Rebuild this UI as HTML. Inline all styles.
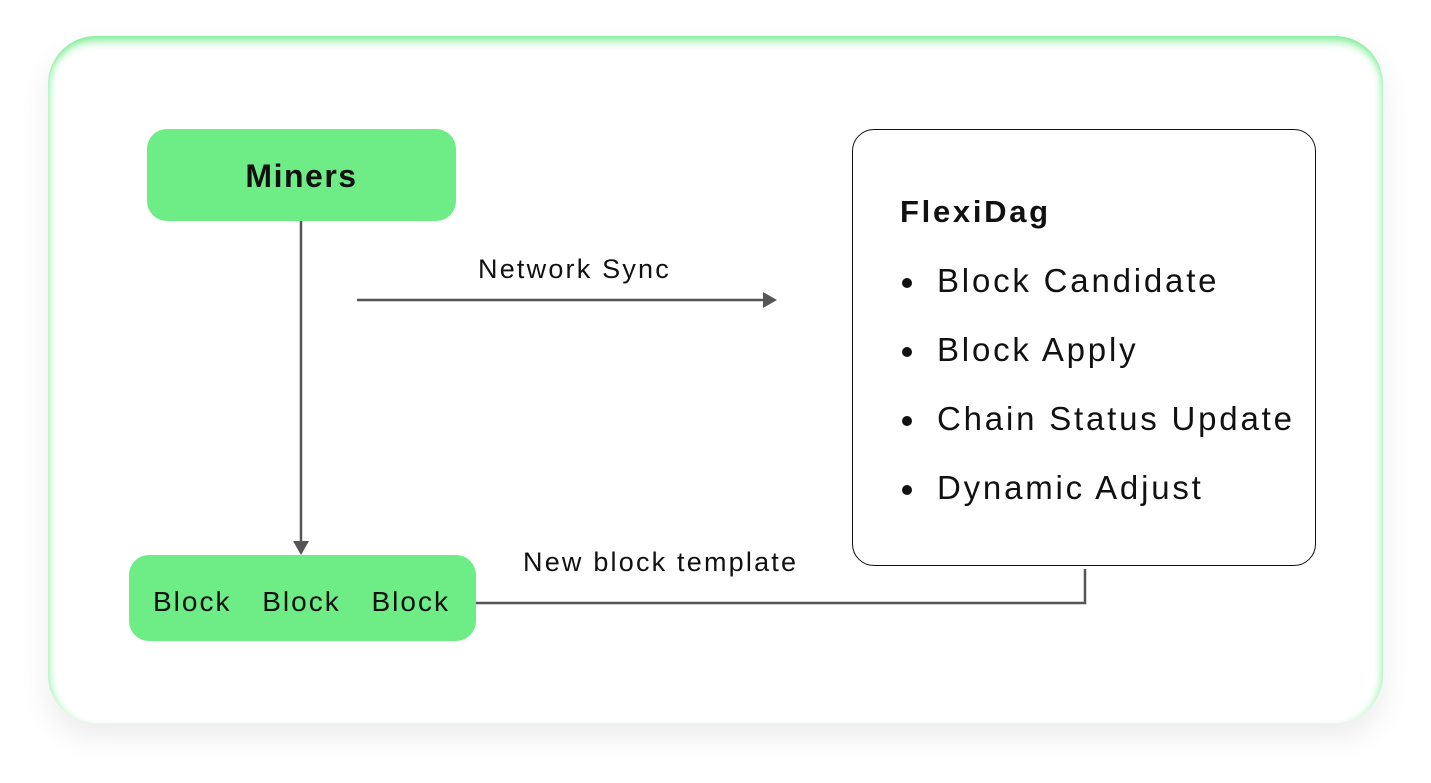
<!DOCTYPE html>
<html><head><style>
body{margin:0;width:1431px;height:783px;background:#fff;position:relative;overflow:hidden;font-family:"Liberation Sans",sans-serif;color:#111}
.card{position:absolute;left:48px;top:36px;width:1335px;height:687px;border-radius:48px;background:#fff;
box-shadow:inset 0 10px 10px -6px #6eea88,inset 8px 0 8px -6px #a8f3b8,inset -8px 0 8px -6px #a8f3b8,0 14px 30px rgba(0,0,0,0.08)}
.g{position:absolute;background:#6eec86;border-radius:20px}
.t{position:absolute;white-space:nowrap}
.li{position:absolute;left:937px;font-size:33px;letter-spacing:2.8px;white-space:nowrap}
.b{position:absolute;left:902px;width:12px;height:12px;border-radius:50%;background:#111}
</style></head><body>
<div class="card"></div>
<div class="g" style="left:147px;top:129px;width:309px;height:92px"></div>
<div class="t" style="left:147px;width:309px;top:158px;text-align:center;font-weight:bold;font-size:32px;letter-spacing:1.5px">Miners</div>
<div class="g" style="left:129px;top:555px;width:347px;height:86px"></div>
<div class="t" style="left:153px;top:586px;font-size:28px;letter-spacing:2px;word-spacing:21px">Block Block Block</div>
<div style="position:absolute;left:852px;top:129px;width:462px;height:435px;border:1.5px solid #111;border-radius:22px"></div>
<div class="t" style="left:900px;top:194px;font-weight:bold;font-size:31px;letter-spacing:2.7px">FlexiDag</div>
<div class="b" style="top:278px;width:10px;height:10px"></div><div class="li" style="top:262px">Block Candidate</div>
<div class="b" style="top:347px;width:10px;height:10px"></div><div class="li" style="top:331px">Block Apply</div>
<div class="b" style="top:416px;width:10px;height:10px"></div><div class="li" style="top:400px">Chain Status Update</div>
<div class="b" style="top:485px;width:10px;height:10px"></div><div class="li" style="top:469px">Dynamic Adjust</div>
<div class="t" style="left:478px;top:254px;font-size:27px;letter-spacing:2.2px">Network Sync</div>
<div class="t" style="left:523px;top:547px;font-size:27px;letter-spacing:2.2px">New block template</div>
<svg width="1431" height="783" style="position:absolute;left:0;top:0">
<g stroke="#555" stroke-width="2.5" fill="none">
<line x1="301" y1="221" x2="301" y2="542"/>
<line x1="357" y1="300" x2="764" y2="300"/>
<polyline points="476,603 1085,603 1085,569"/>
</g>
<polygon points="293,541 309,541 301,555" fill="#555"/>
<polygon points="763,292 763,308 777,300" fill="#555"/>
</svg>
</body></html>
